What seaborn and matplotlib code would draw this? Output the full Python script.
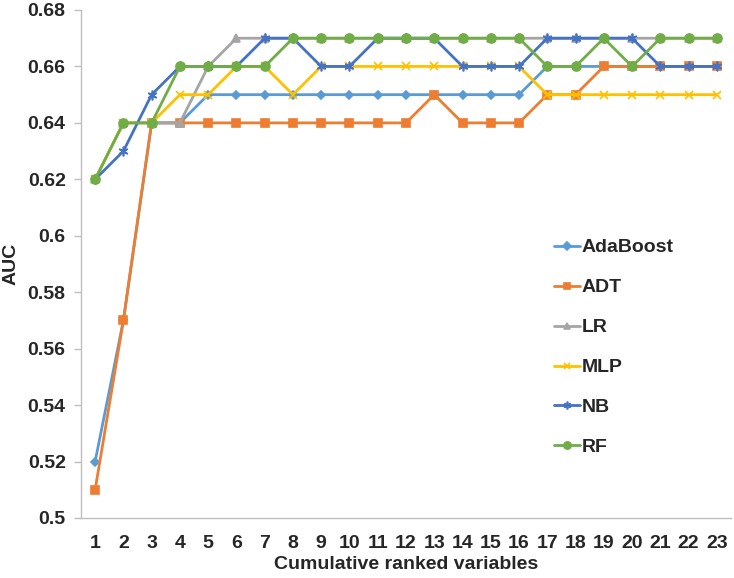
import numpy as np
import pandas as pd
import matplotlib
matplotlib.use("Agg")
import matplotlib.pyplot as plt
import seaborn as sns

variables = list(range(1, 24))
series_names = ["AdaBoost", "ADT", "LR", "MLP", "NB", "RF"]
adaboost = [0.52, 0.57, 0.64, 0.64, 0.65, 0.65, 0.65, 0.65, 0.65, 0.65, 0.65, 0.65,
            0.65, 0.65, 0.65, 0.65, 0.66, 0.66, 0.66, 0.66, 0.66, 0.66, 0.66]
adt = [0.51, 0.57, 0.64, 0.64, 0.64, 0.64, 0.64, 0.64, 0.64, 0.64, 0.64, 0.64,
       0.65, 0.64, 0.64, 0.64, 0.65, 0.65, 0.66, 0.66, 0.66, 0.66, 0.66]
lr = [0.62, 0.64, 0.64, 0.64, 0.66, 0.67, 0.67, 0.67, 0.67, 0.67, 0.67, 0.67,
      0.67, 0.67, 0.67, 0.67, 0.67, 0.67, 0.67, 0.67, 0.67, 0.67, 0.67]
mlp = [0.62, 0.64, 0.64, 0.65, 0.65, 0.66, 0.66, 0.65, 0.66, 0.66, 0.66, 0.66,
       0.66, 0.66, 0.66, 0.66, 0.65, 0.65, 0.65, 0.65, 0.65, 0.65, 0.65]
nb = [0.62, 0.63, 0.65, 0.66, 0.66, 0.66, 0.67, 0.67, 0.66, 0.66, 0.67, 0.67,
      0.67, 0.66, 0.66, 0.66, 0.67, 0.67, 0.67, 0.67, 0.66, 0.66, 0.66]
rf = [0.62, 0.64, 0.64, 0.66, 0.66, 0.66, 0.66, 0.67, 0.67, 0.67, 0.67, 0.67,
      0.67, 0.67, 0.67, 0.67, 0.66, 0.66, 0.67, 0.66, 0.67, 0.67, 0.67]
y_ticks = [0.5, 0.52, 0.54, 0.56, 0.58, 0.6, 0.62, 0.64, 0.66, 0.68]
y_tick_labels = ["0.5", "0.52", "0.54", "0.56", "0.58", "0.6", "0.62", "0.64", "0.66", "0.68"]

values = [adaboost, adt, lr, mlp, nb, rf]
df = pd.concat([pd.DataFrame({"x": variables, "AUC": v, "model": n})
                for n, v in zip(series_names, values)], ignore_index=True)

colors = {"AdaBoost": "#5B9BD5", "ADT": "#ED7D31", "LR": "#A5A5A5",
          "MLP": "#FFC000", "NB": "#4472C4", "RF": "#70AD47"}
markers = {"AdaBoost": "D", "ADT": "s", "LR": "^", "MLP": "x", "NB": (6, 2, 0), "RF": "o"}
msizes = {"AdaBoost": 4.5, "ADT": 6, "LR": 6, "MLP": 6, "NB": 7, "RF": 6.5}

sns.set_theme(style="white")
plt.rcParams["font.family"] = ["Liberation Sans", "DejaVu Sans"]

fig = plt.figure(figsize=(7.34, 5.78), dpi=100)
ax = fig.add_axes([81/734, 1 - 518/578, 650/734, 508/578])

for name in series_names:
    sub = df[df["model"] == name]
    sns.lineplot(data=sub, x="x", y="AUC", ax=ax, color=colors[name], marker=markers[name],
                 markersize=msizes[name], markeredgecolor=colors[name], markeredgewidth=1.2,
                 linewidth=2, label=name, estimator=None, sort=False)

ax.set_xlim(0.5, 23.5)
ax.set_ylim(0.5, 0.68)
ax.set_xticks(variables)
ax.set_xticklabels([str(v) for v in variables], fontsize=14, fontweight="bold")
ax.set_xticks(np.arange(0.5, 24, 1), minor=True)
ax.set_yticks(y_ticks)
ax.set_yticklabels(y_tick_labels, fontsize=14, fontweight="bold")
ax.tick_params(axis="x", which="major", length=0, pad=12)
ax.tick_params(axis="x", which="minor", length=5, width=1, color="#BFBFBF", direction="out")
ax.tick_params(axis="y", which="major", length=5, width=1, color="#BFBFBF", direction="out", left=True, pad=6)

for s in ["top", "right"]:
    ax.spines[s].set_visible(False)
for s in ["left", "bottom"]:
    ax.spines[s].set_color("#BFBFBF")
    ax.spines[s].set_linewidth(1)

ax.set_xlabel("Cumulative ranked variables", fontsize=14, fontweight="bold", labelpad=3)
ax.set_ylabel("AUC", fontsize=14, fontweight="bold", labelpad=6)
ax.grid(False)

leg = ax.legend(loc="upper left", bbox_to_anchor=(546/734, 1 - 231/578),
                bbox_transform=fig.transFigure, frameon=False,
                prop={"size": 14, "weight": "bold"}, handlelength=1.35,
                handletextpad=0.1, labelspacing=1.15, borderaxespad=0,
                markerscale=0.8)

fig.savefig("out.png", dpi=100)
